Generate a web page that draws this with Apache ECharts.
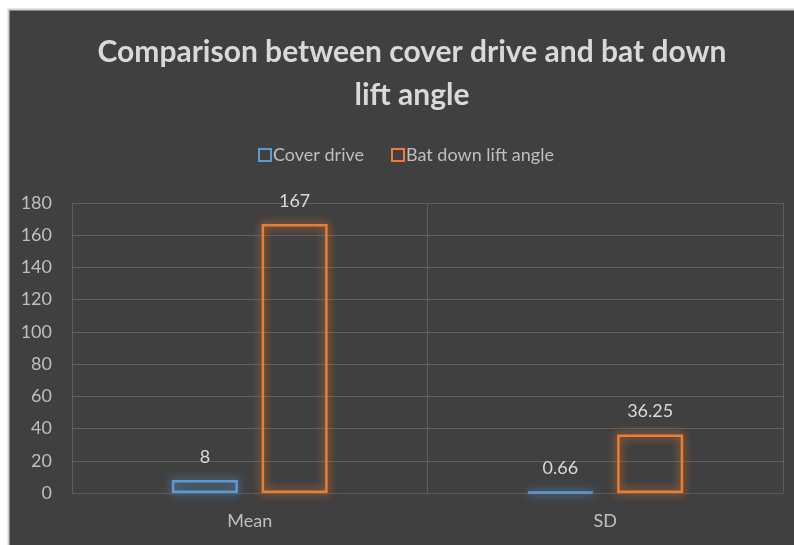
<!DOCTYPE html>
<html>
<head>
<meta charset="utf-8">
<script src="https://cdn.jsdelivr.net/npm/echarts@6/dist/echarts.min.js"></script>
<style>
  html, body { margin: 0; padding: 0; background: #fff; }
  #chart { width: 794px; height: 545px; }
</style>
</head>
<body>
<div id="chart"></div>
<script>
// Chart data
const categories = ['Mean', 'SD'];
const coverDrive = [8, 0.66];
const batDownLiftAngle = [167, 36.25];
const seriesNames = ['Cover drive', 'Bat down lift angle'];
const yTicks = { min: 0, max: 180, step: 20 };

const FONT = 'Lato, "Open Sans", sans-serif';
const BLUE = '#5b9bd5';
const ORANGE = '#ed7d31';

function outlinedBar(name, values, color) {
  return {
    name: name,
    type: 'bar',
    data: values,
    barWidth: 66,
    barGap: '36%',
    itemStyle: {
      color: 'rgba(64,64,64,0)',
      borderColor: color,
      borderWidth: 2.5,
      shadowColor: color,
      shadowBlur: 10
    },
    label: {
      show: true,
      position: 'top',
      distance: 14,
      color: '#d9d9d9',
      fontFamily: FONT,
      fontSize: 18
    }
  };
}

const chart = echarts.init(document.getElementById('chart'), null, { renderer: 'canvas' });
chart.setOption({
  backgroundColor: '#ffffff',
  animation: false,
  graphic: [{
    type: 'rect',
    z: -10,
    shape: { x: 8.5, y: 9.5, width: 800, height: 550 },
    style: { fill: '#404040', stroke: '#d0d0d0', lineWidth: 2 }
  }],
  title: {
    text: 'Comparison between cover drive and bat down\nlift angle',
    left: 407,
    textAlign: 'center',
    top: 26,
    textStyle: {
      color: '#d9d9d9',
      fontFamily: FONT,
      fontWeight: 'bold',
      fontSize: 30,
      lineHeight: 43
    }
  },
  legend: {
    data: seriesNames,
    top: 141,
    left: 253,
    itemWidth: 12,
    itemHeight: 12,
    itemGap: 27,
    icon: 'rect',
    textStyle: { color: '#bfbfbf', fontFamily: FONT, fontSize: 18, padding: [0, 0, 0, -3] }
  },
  grid: { left: 72, right: 11, top: 203, bottom: 52, containLabel: false },
  xAxis: {
    type: 'category',
    data: categories,
    axisLine: { show: true, lineStyle: { color: '#595959' } },
    axisTick: { show: false },
    splitLine: { show: true, lineStyle: { color: '#5e5e5e', width: 1 } },
    axisLabel: { color: '#bfbfbf', fontFamily: FONT, fontSize: 18, margin: 19 }
  },
  yAxis: {
    type: 'value',
    min: yTicks.min,
    max: yTicks.max,
    interval: yTicks.step,
    axisLine: { show: false },
    axisTick: { show: false },
    splitLine: { show: true, lineStyle: { color: '#5e5e5e', width: 1 } },
    axisLabel: { color: '#bfbfbf', fontFamily: FONT, fontSize: 18, margin: 20 }
  },
  series: [
    outlinedBar(seriesNames[0], coverDrive, BLUE),
    outlinedBar(seriesNames[1], batDownLiftAngle, ORANGE)
  ]
});
</script>
</body>
</html>
